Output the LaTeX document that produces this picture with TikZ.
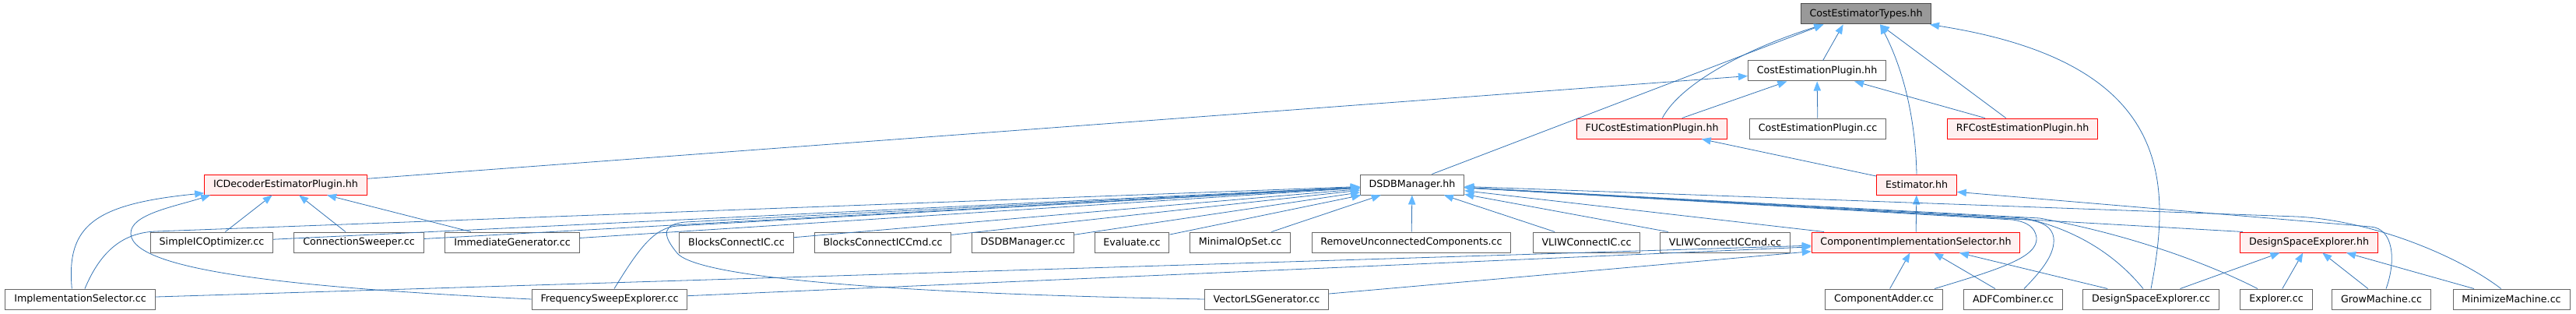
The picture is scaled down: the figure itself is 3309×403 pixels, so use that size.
\documentclass[tikz,border=0pt]{standalone}
\usepackage{fontspec}
\setmainfont{DejaVu Sans}
\usepackage{xcolor}
\usepackage{tikz}
\usetikzlibrary{arrows.meta}
\definecolor{dgray}{HTML}{999999}
\definecolor{dframe}{HTML}{666666}
\definecolor{dpink}{HTML}{FFF0F0}
\definecolor{dedge}{HTML}{3574B4}
\definecolor{dhead}{HTML}{63B8FF}

\begin{document}
\begin{tikzpicture}[x=0.75pt, y=-0.75pt,
  file/.style={draw=dframe, fill=white, line width=0.75pt, minimum height=19.5pt,
    inner xsep=8.5pt, inner ysep=0pt, font=\fontsize{9.5}{11}\selectfont},
  trunc/.style={file, draw=red, fill=dpink},
  root/.style={file, draw=black!70, fill=dgray},
  incl/.style={draw=dedge, line width=0.6pt,
    -{Triangle[length=9pt, width=7pt, color=dhead]}}]
\useasboundingbox (0,0) rectangle (3309,403);
\node[root] (types) at (2397,18) {CostEstimatorTypes.hh};
\node[file] (plughh) at (2334,91) {CostEstimationPlugin.hh};
\node[trunc] (fuplug) at (2122,165) {FUCostEstimationPlugin.hh};
\node[file] (plugcc) at (2335,165) {CostEstimationPlugin.cc};
\node[trunc] (rfplug) at (2598,165) {RFCostEstimationPlugin.hh};
\node[trunc] (icdec) at (367,237) {ICDecoderEstimatorPlugin.hh};
\node[file] (dsdbhh) at (1814,237) {DSDBManager.hh};
\node[trunc] (estim) at (2462,237) {Estimator.hh};
\node[file] (simpleic) at (272,311) {SimpleICOptimizer.cc};
\node[file] (connsweep) at (461,311) {ConnectionSweeper.cc};
\node[file] (immgen) at (658,311) {ImmediateGenerator.cc};
\node[file] (blocksic) at (946,311) {BlocksConnectIC.cc};
\node[file] (blockscmd) at (1134,311) {BlocksConnectICCmd.cc};
\node[file] (dsdbcc) at (1314,311) {DSDBManager.cc};
\node[file] (evaluate) at (1454,311) {Evaluate.cc};
\node[file] (minopset) at (1593,311) {MinimalOpSet.cc};
\node[file] (removeuc) at (1813,311) {RemoveUnconnectedComponents.cc};
\node[file] (vliwic) at (2038,311) {VLIWConnectIC.cc};
\node[file] (vliwcmd) at (2216,311) {VLIWConnectICCmd.cc};
\node[trunc] (cimplsel) at (2461,311) {ComponentImplementationSelector.hh};
\node[trunc] (dsehh) at (2966,311) {DesignSpaceExplorer.hh};
\node[file] (implsel) at (103,384) {ImplementationSelector.cc};
\node[file] (freqsweep) at (783,384) {FrequencySweepExplorer.cc};
\node[file] (vectorls) at (1627,384) {VectorLSGenerator.cc};
\node[file] (compadder) at (2420,384) {ComponentAdder.cc};
\node[file] (adfcomb) at (2586,384) {ADFCombiner.cc};
\node[file] (dsecc) at (2763,384) {DesignSpaceExplorer.cc};
\node[file] (explorer) at (2924,384) {Explorer.cc};
\node[file] (growm) at (3059,384) {GrowMachine.cc};
\node[file] (minimizem) at (3226,384) {MinimizeMachine.cc};

\draw[incl] ([xshift=19pt]dsdbhh.north) -- ([xshift=-41pt]types.south);
\draw[incl] ([xshift=10pt]fuplug.north) .. controls (2160,105) and (2250,60) .. ([xshift=-41pt]types.south);
\draw[incl] (plughh) -- ([xshift=-22pt]types.south);
\draw[incl] (estim.north) .. controls (2460,130) and (2435,70) .. ([xshift=13.5pt]types.south);
\draw[incl] ([xshift=-16pt]rfplug.north) -- ([xshift=13.5pt]types.south);
\draw[incl] (dsecc.north) .. controls (2790,230) and (2790,80) .. ([xshift=61.5pt]types.south);

\draw[incl] (icdec) -- (plughh);
\draw[incl] (fuplug) -- (plughh);
\draw[incl] (plugcc) -- (plughh);
\draw[incl] (rfplug) -- (plughh);
\draw[incl] (estim) -- (fuplug);

\draw[incl] (cimplsel) -- (estim);
\draw[incl] ([xshift=4.5pt]growm.north) .. controls (3078,335) and (3075,293) .. (3045,291) -- ([yshift=-7pt]estim.east);

\draw[incl] (simpleic) -- (icdec);
\draw[incl] (connsweep) -- (icdec);
\draw[incl] (immgen) -- (icdec);
\draw[incl] ([xshift=-8pt]implsel.north) .. controls (85,290) and (120,262) .. ([yshift=2pt]icdec.south west);
\draw[incl] (freqsweep.west) .. controls (400,370) and (170,350) .. (168,300) .. controls (167,275) and (225,265) .. ([xshift=6pt]icdec.south west);

\draw[incl] (implsel) -- (cimplsel);
\draw[incl] (freqsweep) -- (cimplsel);
\draw[incl] (vectorls) -- (cimplsel);
\draw[incl] (compadder) -- (cimplsel);
\draw[incl] (adfcomb) -- (cimplsel);
\draw[incl] (dsecc) -- (cimplsel);

\draw[incl] (dsecc) -- (dsehh);
\draw[incl] (explorer) -- (dsehh);
\draw[incl] (growm) -- (dsehh);
\draw[incl] (minimizem) -- (dsehh);

\draw[incl] (simpleic) -- (dsdbhh);
\draw[incl] (connsweep) -- (dsdbhh);
\draw[incl] (immgen) -- (dsdbhh);
\draw[incl] (blocksic) -- (dsdbhh);
\draw[incl] (blockscmd) -- (dsdbhh);
\draw[incl] (dsdbcc) -- (dsdbhh);
\draw[incl] (evaluate) -- (dsdbhh);
\draw[incl] (minopset) -- (dsdbhh);
\draw[incl] (removeuc) -- (dsdbhh);
\draw[incl] (vliwic) -- (dsdbhh);
\draw[incl] (vliwcmd) -- (dsdbhh);
\draw[incl] (cimplsel) -- (dsdbhh);
\draw[incl] ([xshift=3pt]dsehh.north west) -- (dsdbhh);
\draw[incl] ([xshift=4.5pt]implsel.north) .. controls (130,320) and (160,298.5) .. (200,297) -- (dsdbhh);
\draw[incl] ([xshift=4.5pt]freqsweep.north) .. controls (820,320) and (840,292) .. (870,290) -- (dsdbhh);
\draw[incl] (vectorls.west) .. controls (1200,378) and (900,360) .. (870,325) .. controls (849,300) and (852,288) .. (880,285) -- (dsdbhh);
\draw[incl] ([xshift=-8pt]compadder.north east) .. controls (2570,345) and (2618,330) .. (2616,305) .. controls (2614,292) and (2605,285) .. (2585,282) -- (dsdbhh);
\draw[incl] ([xshift=10.5pt]adfcomb.north) .. controls (2625,345) and (2640,325) .. (2638,305) .. controls (2636,292) and (2625,285) .. (2605,282) -- (dsdbhh);
\draw[incl] ([xshift=-7.5pt]dsecc.north) .. controls (2720,330) and (2670,295) .. (2600,280) -- (dsdbhh);
\draw[incl] ([xshift=-18pt]explorer.north) .. controls (2830,335) and (2730,300) .. (2620,280) -- (dsdbhh);
\draw[incl] ([xshift=-10pt]minimizem.north) .. controls (3160,330) and (3050,283) .. (2950,278) -- (dsdbhh);
\end{tikzpicture}
\end{document}
